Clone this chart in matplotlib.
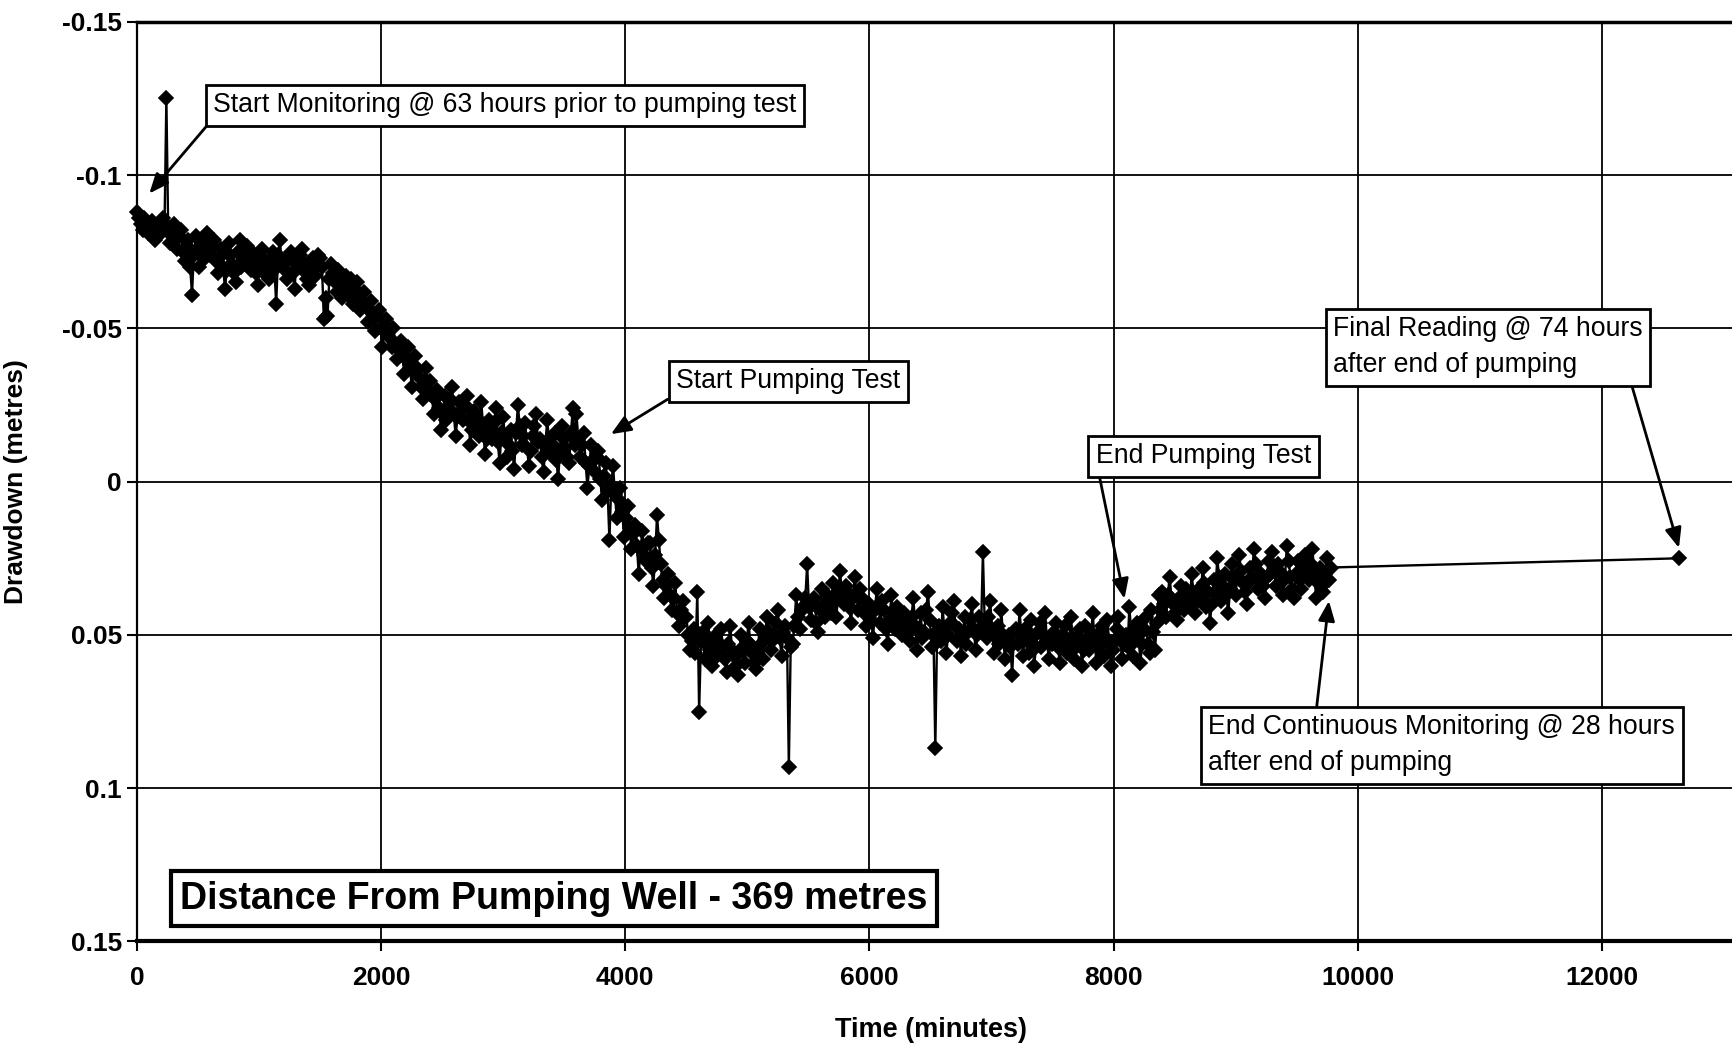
import numpy as np
import matplotlib
matplotlib.use("Agg")
import matplotlib.pyplot as plt

plt.rcParams['font.family'] = ['Liberation Sans', 'DejaVu Sans']

# Logger readings, one every 15 minutes. Drawdown in mm (negative = above static level).
SAMPLE_STEP = 15
drawdown_mm = [
    -88, -86, -84, -82, -86, -83, -81, -84, -85, -80, -79, -82, -83, -81, -86, -84, -125, -82, -78, -80,
    -84, -79, -76, -80, -82, -75, -72, -77, -79, -70, -61, -74, -80, -75, -70, -79, -77, -73, -81, -76,
    -74, -77, -79, -72, -68, -73, -76, -70, -63, -69, -78, -74, -71, -68, -65, -75, -79, -70, -73, -76,
    -77, -72, -69, -75, -74, -68, -64, -71, -76, -73, -70, -67, -66, -72, -75, -69, -58, -74, -79, -71,
    -72, -69, -66, -73, -75, -68, -63, -71, -70, -74, -76, -71, -68, -66, -64, -70, -73, -67, -70, -74,
    -73, -70, -53, -60, -54, -66, -71, -68, -65, -62, -69, -65, -60, -64, -67, -61, -63, -66, -58, -63,
    -65, -60, -56, -59, -62, -57, -52, -56, -59, -53, -49, -54, -56, -50, -44, -49, -53, -50, -47, -44,
    -50, -45, -40, -43, -46, -41, -35, -40, -44, -38, -31, -36, -41, -37, -34, -31, -27, -33, -37, -30,
    -33, -28, -22, -27, -30, -24, -17, -22, -28, -20, -24, -27, -31, -22, -15, -21, -26, -23, -20, -25,
    -28, -20, -12, -17, -23, -21, -18, -15, -26, -18, -9, -14, -20, -17, -14, -19, -24, -13, -6, -16,
    -21, -14, -8, -12, -17, -10, -4, -16, -25, -18, -12, -15, -19, -11, -5, -10, -15, -18, -22, -13,
    -14, -8, -3, -12, -20, -14, -9, -12, -16, -7, -1, -10, -18, -14, -11, -8, -6, -16, -24, -12,
    -22, -14, -8, -12, -16, -6, 2, -5, -12, -7, -3, -8, -10, -1, 6, -2, -6, 3, 19, 1,
    -5, 4, 12, 6, 2, 10, 18, 12, 8, 15, 22, 17, 14, 21, 30, 22, 16, 24, 26, 20,
    20, 28, 34, 24, 11, 19, 27, 32, 38, 34, 30, 37, 42, 38, 33, 43, 47, 42, 39, 44,
    44, 50, 55, 52, 48, 56, 36, 75, 52, 49, 58, 53, 46, 55, 60, 51, 50, 57, 53, 48,
    54, 58, 62, 53, 47, 55, 57, 60, 63, 56, 50, 54, 59, 52, 46, 53, 56, 59, 61, 55,
    48, 53, 58, 50, 44, 49, 55, 52, 50, 46, 42, 51, 57, 49, 47, 51, 93, 54, 53, 47,
    37, 44, 48, 42, 41, 38, 27, 41, 45, 40, 38, 46, 49, 42, 35, 40, 44, 37, 40, 43,
    33, 39, 44, 36, 29, 37, 40, 34, 36, 41, 46, 38, 31, 37, 42, 35, 38, 43, 47, 40,
    40, 45, 51, 42, 35, 41, 46, 39, 42, 48, 53, 45, 37, 43, 48, 41, 44, 47, 50, 43,
    45, 49, 52, 44, 38, 47, 55, 48, 43, 51, 49, 42, 36, 45, 54, 50, 87, 49, 47, 52,
    41, 49, 56, 50, 46, 43, 39, 47, 52, 48, 57, 50, 44, 53, 49, 45, 40, 48, 55, 50,
    44, 48, 23, 47, 51, 44, 39, 48, 56, 50, 47, 53, 42, 50, 58, 52, 50, 54, 63, 49,
    48, 53, 42, 50, 57, 48, 52, 56, 45, 51, 60, 54, 49, 46, 54, 50, 43, 52, 58, 51,
    53, 49, 46, 54, 59, 52, 50, 47, 56, 53, 44, 51, 58, 54, 51, 48, 60, 55, 47, 52,
    55, 50, 43, 52, 59, 54, 49, 47, 57, 51, 45, 53, 60, 55, 52, 48, 44, 51, 58, 53,
    50, 54, 41, 49, 57, 52, 46, 50, 59, 53, 48, 44, 53, 56, 42, 49, 55, 46, 37, 42,
    36, 40, 44, 37, 31, 38, 40, 43, 45, 39, 34, 37, 42, 35, 38, 41, 30, 36, 43, 39,
    35, 38, 28, 33, 41, 36, 46, 40, 32, 36, 25, 31, 39, 34, 30, 37, 43, 35, 27, 32,
    37, 31, 24, 29, 33, 36, 40, 33, 28, 31, 22, 27, 35, 32, 30, 34, 38, 31, 26, 30,
    23, 29, 34, 27, 29, 33, 37, 31, 21, 26, 31, 35, 38, 30, 26, 32, 35, 29, 24, 31,
    32, 27, 22, 30, 38, 33, 28, 34, 36, 30, 25, 32, 28,
]
# single manual reading well after logging stopped
final_time = 12630
final_drawdown_mm = 25

y_ticks = [-0.15, -0.1, -0.05, 0, 0.05, 0.1, 0.15]
y_tick_labels = ['-0.15', '-0.1', '-0.05', '0', '0.05', '0.1', '0.15']
x_ticks = [0, 2000, 4000, 6000, 8000, 10000, 12000]

time_min = np.arange(len(drawdown_mm)) * SAMPLE_STEP
t = np.append(time_min, final_time)
dd = np.append(np.array(drawdown_mm), final_drawdown_mm) / 1000.0

fig = plt.figure(figsize=(17.33, 10.51), dpi=100)
# plot area runs off the right edge of the scanned page
ax = fig.add_axes([0.0791, 0.1042, 0.986, 0.875])

ax.plot(t, dd, color='black', lw=1.7, marker='D', ms=6.8, mfc='black', mec='black', mew=1.2,
        clip_on=False, zorder=3)

ax.set_xlim(0, 14000)
ax.set_ylim(0.15, -0.15)
ax.set_xticks(x_ticks)
ax.set_xticklabels([str(v) for v in x_ticks])
ax.set_yticks(y_ticks)
ax.set_yticklabels(y_tick_labels)
ax.tick_params(axis='both', labelsize=19, length=7, width=1.5, color='black')
ax.tick_params(axis='x', pad=11)
ax.tick_params(axis='y', pad=4)
for lab in ax.get_xticklabels() + ax.get_yticklabels():
    lab.set_fontweight('bold')

ax.grid(True, color='black', lw=1.3)
ax.set_axisbelow(True)
ax.spines['left'].set_linewidth(1.6)
ax.spines['top'].set_linewidth(2.5)
ax.spines['bottom'].set_linewidth(3)

ax.set_ylabel('Drawdown (metres)', fontsize=19, fontweight='bold')
ax.yaxis.set_label_coords(-0.0638, 0.5)
ax.set_xlabel('Time (minutes)', fontsize=19.5, fontweight='bold')
ax.xaxis.set_label_coords(0.4646, -0.0962)
ax.xaxis.label.set_va('center')

box = dict(boxstyle='square,pad=0.28', fc='white', ec='black', lw=2)


def note(text, xy, xytext, relpos):
    ax.annotate(text, xy=xy, xytext=xytext, fontsize=19.2, ha='left', va='center',
                linespacing=1.5, bbox=box, zorder=5,
                arrowprops=dict(arrowstyle='-|>,head_length=0.6,head_width=0.25',
                                color='black', lw=2, mutation_scale=20,
                                shrinkA=0, shrinkB=0, relpos=relpos))


note('Start Monitoring @ 63 hours prior to pumping test', (100, -0.094), (624, -0.1228), (0, 0))
note('Start Pumping Test', (3882, -0.0155), (4416, -0.0328), (0, 0))
note('End Pumping Test', (8090, 0.0382), (7855, -0.0083), (0.01, 0))
note('Final Reading @ 74 hours\nafter end of pumping', (12633, 0.0216), (9801, -0.0439), (0.957, 0))
note('End Continuous Monitoring @ 28 hours\nafter end of pumping', (9765, 0.0389), (8778, 0.086), (0.23, 1))

ax.text(353, 0.136, 'Distance From Pumping Well - 369 metres', fontsize=27, fontweight='bold',
        ha='left', va='center', zorder=5,
        bbox=dict(boxstyle='square,pad=0.25', fc='white', ec='black', lw=3))

fig.savefig('out.png', dpi=100, facecolor='white')
